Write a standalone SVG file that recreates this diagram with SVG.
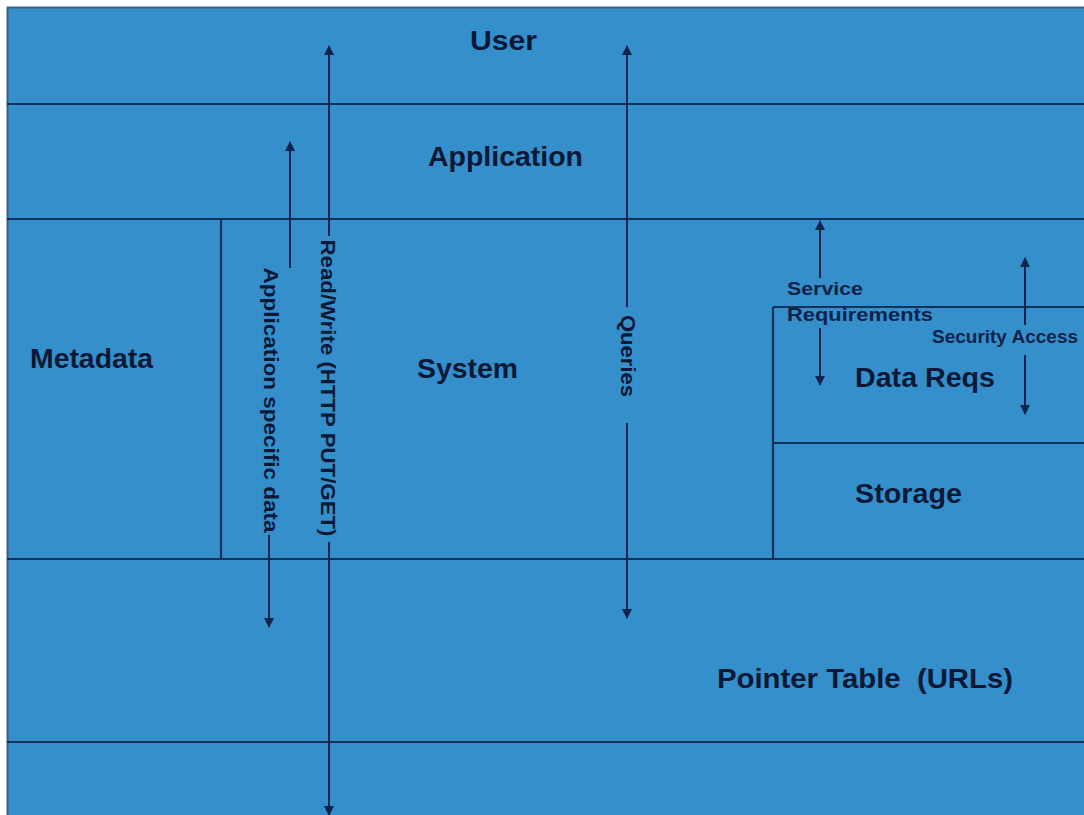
<svg xmlns="http://www.w3.org/2000/svg" width="1084" height="815" viewBox="0 0 1084 815">
  <defs>
    <style>
      .ln { stroke: #15305c; stroke-width: 2.2; fill: none; }
      .ar { stroke: #0f2550; stroke-width: 2; fill: none; }
      .big { font-family: "Liberation Sans", Arial, sans-serif; font-weight: bold; font-size: 27px; fill: #0b1836; }
      .sm { font-family: "Liberation Sans", Arial, sans-serif; font-weight: bold; font-size: 18px; fill: #10234a; }
      .rot { font-family: "Liberation Sans", Arial, sans-serif; font-weight: bold; font-size: 21px; fill: #0b1836; }
    </style>
    <marker id="ah" viewBox="0 0 10 10" refX="9" refY="5" markerWidth="10" markerHeight="10" markerUnits="userSpaceOnUse" orient="auto">
      <path d="M0,0 L10,5 L0,10 z" fill="#0f2550"/>
    </marker>
  </defs>
  <rect x="0" y="0" width="1084" height="815" fill="#ffffff"/>
  <rect x="7" y="7" width="1077" height="808" fill="#358fca"/>
  <line x1="7" y1="7.5" x2="1084" y2="7.5" stroke="#3a5f80" stroke-width="2"/>
  <line x1="7.5" y1="7" x2="7.5" y2="815" stroke="#3a5f80" stroke-width="2"/>

  <g id="layer-user">
    <line class="ln" x1="7" y1="104" x2="1084" y2="104"/>
    <text class="big" x="470" y="50" textLength="67" lengthAdjust="spacingAndGlyphs">User</text>
  </g>
  <g id="layer-application">
    <line class="ln" x1="7" y1="219" x2="1084" y2="219"/>
    <text class="big" x="428" y="166" textLength="155" lengthAdjust="spacingAndGlyphs">Application</text>
  </g>
  <g id="metadata">
    <line class="ln" x1="221" y1="219" x2="221" y2="559"/>
    <text class="big" x="30" y="368" textLength="123" lengthAdjust="spacingAndGlyphs">Metadata</text>
  </g>
  <g id="system">
    <line class="ln" x1="7" y1="559" x2="1084" y2="559"/>
    <text class="big" x="417" y="378" textLength="101" lengthAdjust="spacingAndGlyphs">System</text>
  </g>
  <g id="data-reqs">
    <line class="ln" x1="773" y1="307" x2="1084" y2="307"/>
    <line class="ln" x1="773" y1="307" x2="773" y2="559"/>
    <text class="big" x="855" y="387" textLength="140" lengthAdjust="spacingAndGlyphs">Data Reqs</text>
  </g>
  <g id="storage">
    <line class="ln" x1="773" y1="443" x2="1084" y2="443"/>
    <text class="big" x="855" y="503" textLength="107" lengthAdjust="spacingAndGlyphs">Storage</text>
  </g>
  <g id="pointer-table">
    <line class="ln" x1="7" y1="742" x2="1084" y2="742"/>
    <text class="big" x="717" y="688" textLength="296" lengthAdjust="spacingAndGlyphs" style="white-space:pre">Pointer Table  (URLs)</text>
  </g>

  <g id="connectors">
    <!-- Read/Write -->
    <line class="ar" x1="329" y1="236" x2="329" y2="46" marker-end="url(#ah)"/>
    <line class="ar" x1="329" y1="542" x2="329" y2="815" marker-end="url(#ah)"/>
    <text class="rot" transform="translate(328,388) rotate(90)" x="0" y="0" text-anchor="middle" dominant-baseline="central" textLength="297" lengthAdjust="spacingAndGlyphs">Read/Write (HTTP PUT/GET)</text>
    <!-- Application specific data -->
    <line class="ar" x1="290" y1="268" x2="290" y2="142" marker-end="url(#ah)"/>
    <line class="ar" x1="269" y1="535" x2="269" y2="627" marker-end="url(#ah)"/>
    <text class="rot" transform="translate(271,400) rotate(90)" x="0" y="0" text-anchor="middle" dominant-baseline="central" textLength="265" lengthAdjust="spacingAndGlyphs">Application specific data</text>
    <!-- Queries -->
    <line class="ar" x1="627" y1="307" x2="627" y2="46" marker-end="url(#ah)"/>
    <line class="ar" x1="627" y1="423" x2="627" y2="618" marker-end="url(#ah)"/>
    <text class="rot" transform="translate(628,356) rotate(90)" x="0" y="0" text-anchor="middle" dominant-baseline="central" textLength="82" lengthAdjust="spacingAndGlyphs">Queries</text>
    <!-- Service Requirements -->
    <line class="ar" x1="820" y1="278" x2="820" y2="221" marker-end="url(#ah)"/>
    <line class="ar" x1="820" y1="328" x2="820" y2="385" marker-end="url(#ah)"/>
    <text class="sm" x="787" y="295" textLength="76" lengthAdjust="spacingAndGlyphs">Service</text>
    <text class="sm" x="787" y="321" textLength="146" lengthAdjust="spacingAndGlyphs">Requirements</text>
    <!-- Security Access -->
    <line class="ar" x1="1025" y1="325" x2="1025" y2="258" marker-end="url(#ah)"/>
    <line class="ar" x1="1025" y1="355" x2="1025" y2="414" marker-end="url(#ah)"/>
    <text class="sm" x="932" y="343" textLength="146" lengthAdjust="spacingAndGlyphs">Security Access</text>
  </g>
</svg>
